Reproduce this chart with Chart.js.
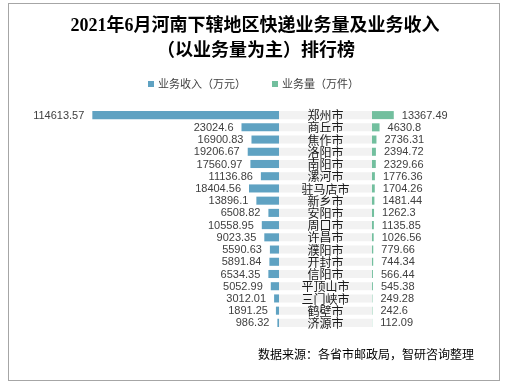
<!DOCTYPE html>
<html>
<head>
<meta charset="utf-8">
<script src="https://cdn.jsdelivr.net/npm/chart.js@4/dist/chart.umd.min.js"></script>
<style>
html,body{margin:0;padding:0;background:#fff;}
canvas{display:block;}
</style>
</head>
<body>
<canvas id="c" width="505" height="383"></canvas>
<script>
const titleLines = ['2021年6月河南下辖地区快递业务量及业务收入', '（以业务量为主）排行榜'];
const sourceText = '数据来源：各省市邮政局，智研咨询整理';
const cities = ['郑州市','商丘市','焦作市','洛阳市','南阳市','漯河市','驻马店市','新乡市','安阳市','周口市','许昌市','濮阳市','开封市','信阳市','平顶山市','三门峡市','鹤壁市','济源市'];
const revenue = [114613.57,23024.6,16900.83,19206.67,17560.97,11136.86,18404.56,13896.1,6508.82,10558.95,9023.35,5590.63,5891.84,6534.35,5052.99,3012.01,1891.25,986.32];
const volume = [13367.49,4630.8,2736.31,2394.72,2329.66,1776.36,1704.26,1481.44,1262.3,1135.85,1026.56,779.66,744.34,566.44,545.38,249.28,242.6,112.09];
const seriesNames = ['业务收入（万元）', '业务量（万件）'];

const PX = 614;          // value units per pixel
const GAP = 93 * PX;     // width of the central name band in value units
const BLUE = '#5fa2c2', GREEN = '#72bf9e', BAND = '#f2f2f2';

const overlay = {
  id: 'overlay',
  afterDraw(chart) {
    const ctx = chart.ctx;
    const xs = chart.scales.x, ys = chart.scales.y;
    ctx.save();
    // frame
    ctx.strokeStyle = '#a6a6a6';
    ctx.lineWidth = 1;
    ctx.strokeRect(8.5, 3.5, 491, 377);
    // title
    ctx.fillStyle = '#000';
    ctx.textAlign = 'center';
    ctx.textBaseline = 'middle';
    ctx.font = "bold 18px 'Liberation Serif', 'Noto Sans CJK SC'";
    ctx.fillText(titleLines[0], 255, 26);
    ctx.fillText(titleLines[1], 256, 51.5);
    // legend
    ctx.font = "11px 'Noto Sans CJK SC'";
    ctx.textAlign = 'left';
    const leg = [[148, chart.data.datasets[0]], [272, chart.data.datasets[2]]];
    leg.forEach(([x, ds]) => {
      ctx.fillStyle = ds.backgroundColor;
      ctx.fillRect(x, 81, 6, 6);
      ctx.fillStyle = '#404040';
      ctx.fillText(ds.label, x + 10, 84);
    });
    // labels
    const mid = (xs.getPixelForValue(0) + xs.getPixelForValue(GAP)) / 2;
    cities.forEach((c, i) => {
      const y = ys.getPixelForValue(i);
      ctx.font = "12px 'Noto Sans CJK SC'";
      ctx.fillStyle = '#1a1a1a';
      ctx.textAlign = 'center';
      ctx.fillText(c, mid, y + 0.5);
      ctx.font = "11px 'Liberation Sans'";
      ctx.fillStyle = '#404040';
      ctx.textAlign = 'right';
      ctx.fillText(String(revenue[i]), xs.getPixelForValue(-revenue[i]) - 8, y + 0.5);
      ctx.textAlign = 'left';
      ctx.fillText(String(volume[i]), xs.getPixelForValue(GAP + volume[i]) + 8, y + 0.5);
    });
    // source
    ctx.font = "12px 'Noto Sans CJK SC'";
    ctx.fillStyle = '#000';
    ctx.textAlign = 'left';
    ctx.fillText(sourceText, 258, 354);
    ctx.restore();
  }
};

new Chart(document.getElementById('c'), {
  type: 'bar',
  data: {
    labels: cities,
    datasets: [
      { label: seriesNames[0], data: revenue.map(v => [-v, 0]), backgroundColor: BLUE },
      { label: 'band', data: cities.map(() => [0, GAP]), backgroundColor: BAND },
      { label: seriesNames[1], data: volume.map(v => [GAP, GAP + v]), backgroundColor: GREEN }
    ]
  },
  options: {
    indexAxis: 'y',
    responsive: false,
    animation: false,
    grouped: false,
    layout: { padding: { left: 20, right: 15, top: 109, bottom: 54 } },
    datasets: { bar: { categoryPercentage: 1, barPercentage: 0.66, borderWidth: 0 } },
    scales: {
      x: { display: false, min: -259 * PX, max: 211 * PX },
      y: { display: false }
    },
    plugins: { legend: { display: false }, title: { display: false }, tooltip: { enabled: false } }
  },
  plugins: [overlay]
});
</script>
</body>
</html>
